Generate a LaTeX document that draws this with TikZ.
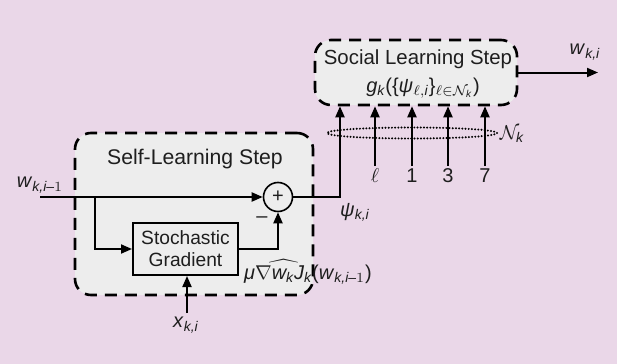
\documentclass[tikz,border=0pt]{standalone}
\usepackage{amsmath}
\usepackage{fontspec}
\setmainfont{Liberation Sans}
\usetikzlibrary{arrows.meta,shapes.geometric}
\definecolor{bgpink}{RGB}{234,215,232}
\definecolor{boxgray}{RGB}{237,237,237}
\definecolor{ink}{RGB}{30,30,30}
\begin{document}
\begin{tikzpicture}[x=0.5pt,y=-0.5pt,
  font=\fontsize{10}{12}\selectfont,text=ink,
  arr/.style={line width=1pt,-{Triangle[length=5.5pt,width=4.5pt]}},
  dbox/.style={draw,line width=1.3pt,dash pattern=on 6pt off 4pt,rounded corners=8pt,fill=boxgray,inner sep=0pt},
  lbl/.style={inner sep=1pt}]
\fill[bgpink] (0,0) rectangle (617,364);
\useasboundingbox (0,0) rectangle (617,364);
% boxes
\node[dbox,minimum width=119pt,minimum height=81pt] (self) at (194,214) {};
\node[dbox,minimum width=101pt,minimum height=32.5pt] (social) at (416,72.5) {};
\node[font=\fontsize{10.6}{12}\selectfont] (selft) at (195,159) {Self-Learning Step};
\node[font=\fontsize{10.2}{12}\selectfont] (soct) at (418,59) {Social Learning Step};
\node (gk) at (423,88) {\textit{g}$_{\textit{k}}$(\{\textit{ψ}$_{\ell,\textit{i}}$\}$_{\ell\in\mathcal{N}_{\textit{k}}}$)};
\node[draw,line width=1pt,minimum width=52.5pt,minimum height=26pt,fill=boxgray,align=center,inner sep=0pt,font=\fontsize{9.6}{11}\selectfont] (sg) at (185.5,249) {Stochastic\\Gradient};
\node[circle,draw,line width=0.8pt,minimum size=14.5pt,inner sep=0pt,fill=boxgray] (plus) at (278,197) {+};
% neighbourhood ellipse
\node[ellipse,draw,line width=1.1pt,dash pattern=on 0pt off 1.6pt,line cap=round,minimum width=85pt,minimum height=5.5pt,inner sep=0pt] (nbh) at (412,133) {};
\node[lbl] (nk) at (512,134) {$\mathcal{N}_{\textit{k}}$};
% coordinates
\coordinate (win) at (40,197);
\coordinate (br) at (95,197);
\coordinate (xin) at (187,313);
\coordinate (psi) at (340,197);
\coordinate (wout) at (598,72.5);
% labels
\node[lbl] (lwin) at (40,185) {\textit{w}$_{\textit{k,i}\text{–}1}$};
\node[lbl] (lx) at (186,325) {\textit{x}$_{\textit{k,i}}$};
\node[lbl] (lpsi) at (355,212) {\textit{ψ}$_{\textit{k,i}}$};
\node[lbl] (lwout) at (585,52) {\textit{w}$_{\textit{k,i}}$};
\node[lbl] (lmu) at (308,272) {\textit{μ}$\widehat{\nabla\textit{w}_{\textit{k}}\textit{J}_{\textit{k}}}$(\textit{w}$_{\textit{k,i}\text{–}1}$)};
\node[lbl] (minus) at (262,220) {–};
\node[lbl,anchor=north] (n1) at (375,166) {$\ell$};
\node[lbl,anchor=north] (n2) at (412,166) {1};
\node[lbl,anchor=north] (n3) at (448,166) {3};
\node[lbl,anchor=north] (n4) at (485,166) {7};
% connectors
\draw[arr] (win) -- (plus.west);
\draw[arr] (br) |- (sg.west);
\draw[arr] (sg.east) -| (plus.south);
\draw[arr] (xin) -- (xin|-sg.south);
\draw[arr] (plus.east) -- (psi) -- (psi|-social.south);
\foreach \n in {n1,n2,n3,n4}{\draw[arr] (\n.north) -- (\n.north|-social.south);}
\draw[arr] (social.east) -- (wout);
\end{tikzpicture}
\end{document}
